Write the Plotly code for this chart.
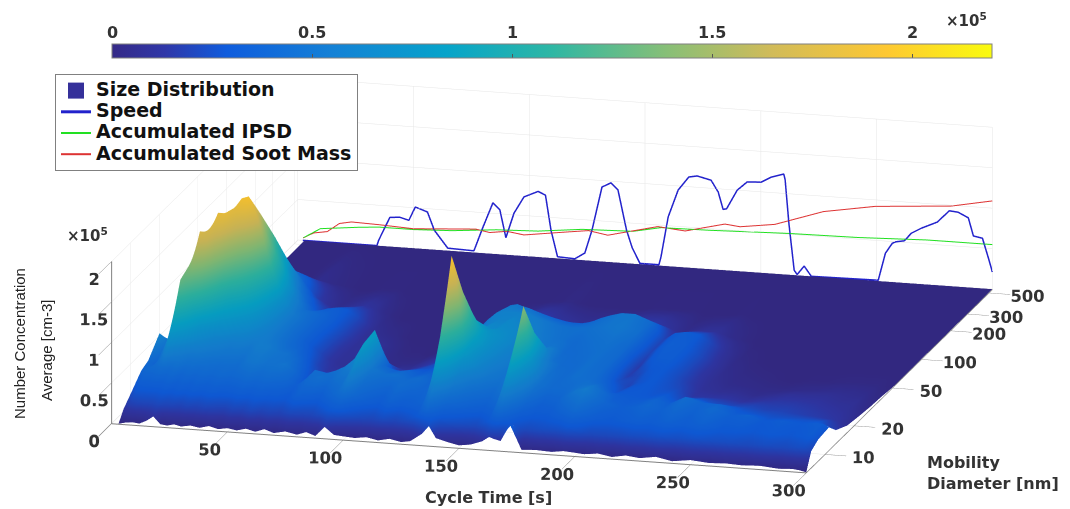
import plotly.graph_objects as go
import math

cycle_time = [3,6,9,12,15,18,21,24,27,30,34,38,42,46,50,54,58,62,66,70,75,80,84,88,92,96,100,105,110,115,120,125,129,132,134,137,140,145,150,155,160,163,165,168,172,177,183,190,195,200,204,210,216,222,228,235,242,250,258,265,272,280,288,294,297,300]
diameter = [6.4,7.2,8.5,11,13,17,23,30,38,50,70,110,200,543]
conc = [
[.00,.12,.22,.38,.42,.62,.35,.12,.03,0,0,0,0,0],
[.02,.18,.30,.42,.38,.50,.42,.20,.06,.01,0,0,0,0],
[.03,.20,.30,.42,.50,.75,.80,.45,.12,.03,0,0,0,0],
[.02,.20,.30,.45,.70,1.30,1.40,.95,.45,.12,.01,0,0,0],
[.06,.20,.30,.42,.60,1.10,1.75,1.60,1.05,.45,.10,0,0,0],
[.12,.22,.32,.45,.55,.90,1.65,1.85,1.50,.95,.35,.05,0,0],
[.03,.20,.30,.40,.50,.75,1.35,1.85,1.80,1.35,.70,.20,.01,0],
[.02,.20,.32,.42,.50,.68,1.10,1.60,1.92,1.55,1.00,.40,.03,0],
[.04,.18,.30,.40,.48,.62,.95,1.40,1.95,1.60,1.15,.50,.06,0],
[.02,.20,.32,.42,.46,.60,.88,1.25,1.75,1.35,.95,.42,.05,0],
[.04,.18,.30,.40,.45,.55,.80,1.05,1.35,1.10,.70,.28,.03,0],
[.02,.20,.32,.42,.45,.55,.72,.85,1.00,.82,.50,.16,.02,0],
[.05,.18,.30,.40,.44,.52,.62,.68,.72,.60,.35,.10,.01,0],
[.02,.16,.30,.42,.50,.56,.55,.55,.55,.45,.25,.06,0,0],
[.04,.20,.32,.45,.52,.55,.48,.46,.46,.42,.30,.08,0,0],
[.02,.18,.30,.42,.48,.50,.42,.38,.38,.38,.32,.10,.01,0],
[.05,.22,.32,.44,.48,.48,.38,.30,.30,.32,.30,.12,.01,0],
[.02,.18,.30,.42,.50,.42,.30,.22,.22,.24,.24,.10,.01,0],
[.06,.20,.30,.40,.42,.32,.20,.14,.14,.16,.16,.05,0,0],
[.02,.18,.28,.34,.30,.22,.14,.10,.10,.10,.08,.02,0,0],
[.05,.22,.35,.42,.45,.28,.12,.08,.10,.10,.05,0,0,0],
[.02,.20,.32,.46,.42,.24,.10,.06,.08,.08,.03,0,0,0],
[.06,.20,.30,.42,.46,.26,.10,.05,.06,.05,.01,0,0,0],
[.02,.24,.36,.48,.52,.30,.10,.05,.04,.02,0,0,0,0],
[.14,.30,.42,.50,.62,.42,.14,.05,.03,.01,0,0,0,0],
[.05,.32,.50,.70,.82,.85,.30,.08,.03,.01,0,0,0,0],
[.04,.26,.40,.46,.52,.42,.18,.08,.04,0,0,0,0,0],
[.03,.22,.34,.42,.46,.36,.20,.12,.08,.03,.01,0,0,0],
[.05,.20,.30,.38,.46,.38,.24,.16,.12,.08,.03,0,0,0],
[.02,.24,.36,.44,.42,.34,.26,.22,.22,.20,.10,.01,0,0],
[.05,.20,.32,.40,.44,.36,.30,.30,.32,.32,.22,.05,0,0],
[.02,.24,.34,.38,.38,.36,.36,.40,.46,.48,.40,.10,0,0],
[.04,.28,.36,.42,.55,.55,.50,.52,.56,.58,.50,.14,.01,0],
[.10,.35,.50,1.05,1.55,1.20,.80,.62,.60,.60,.52,.16,.01,0],
[.14,.40,.60,1.35,1.98,1.40,.90,.68,.62,.60,.50,.15,.02,0],
[.24,.35,.50,1.00,1.45,1.10,.80,.65,.62,.60,.48,.14,.02,0],
[.10,.28,.42,.62,.80,.85,.75,.68,.65,.60,.45,.12,.01,0],
[.06,.26,.38,.50,.62,.68,.70,.66,.62,.56,.40,.10,0,0],
[.03,.24,.34,.46,.52,.58,.62,.62,.58,.52,.36,.08,0,0],
[.05,.22,.32,.42,.48,.52,.56,.56,.52,.48,.34,.08,0,0],
[.10,.28,.36,.50,.55,.54,.52,.50,.48,.46,.34,.08,0,0],
[.16,.35,.55,.90,1.15,.85,.60,.50,.46,.46,.36,.10,0,0],
[.14,.38,.60,1.08,1.42,.95,.60,.48,.44,.46,.38,.10,0,0],
[.12,.32,.46,.70,.80,.62,.46,.42,.42,.46,.42,.12,0,0],
[.33,.26,.34,.46,.48,.46,.42,.42,.44,.48,.46,.14,.01,0],
[.03,.22,.30,.36,.42,.42,.42,.44,.46,.50,.50,.16,.01,0],
[.04,.24,.30,.38,.42,.46,.46,.46,.48,.52,.50,.16,.01,0],
[.03,.24,.36,.50,.48,.44,.42,.42,.42,.46,.42,.10,.01,0],
[.05,.28,.42,.55,.50,.38,.26,.18,.16,.20,.20,.05,0,0],
[.04,.26,.36,.44,.42,.28,.20,.22,.28,.30,.30,.08,0,0],
[.03,.22,.32,.38,.34,.30,.26,.28,.32,.34,.32,.10,0,0],
[.05,.22,.30,.34,.32,.30,.30,.30,.32,.32,.30,.10,.01,0],
[.02,.22,.32,.36,.34,.28,.26,.24,.24,.24,.20,.05,0,0],
[.05,.24,.34,.40,.38,.30,.22,.16,.14,.14,.10,.02,0,0],
[.03,.24,.32,.36,.34,.24,.14,.10,.08,.06,.03,0,0,0],
[.06,.26,.36,.42,.44,.28,.14,.08,.05,.03,.01,0,0,0],
[.02,.24,.32,.36,.38,.24,.14,.08,.04,.02,0,0,0,0],
[.05,.26,.36,.42,.38,.22,.12,.06,.03,.01,0,0,0,0],
[.03,.24,.30,.34,.30,.22,.14,.08,.03,0,0,0,0,0],
[.04,.24,.30,.36,.28,.20,.15,.10,.04,.01,0,0,0,0],
[.03,.22,.28,.30,.26,.20,.15,.10,.05,.01,0,0,0,0],
[.04,.24,.30,.32,.26,.18,.14,.10,.06,.02,0,0,0,0],
[.02,.22,.28,.30,.26,.16,.12,.08,.06,.02,0,0,0,0],
[.03,.24,.30,.32,.26,.14,.10,.08,.05,.02,0,0,0,0],
[.02,.24,.32,.32,.20,.12,.08,.05,.03,.01,0,0,0,0],
[.00,.20,.26,.28,.16,.08,.05,.03,.02,0,0,0,0,0],
]

speed_t = [2.2,34.2,35,39.8,44.1,48,50.8,56,59,64.8,76.1,80,84.3,87.3,89.9,93.4,97.7,103.8,107,109.4,112.2,119.7,124,127.1,131.4,135.3,138.3,142,144.4,147.8,156,156.9,160,164.3,168.9,172.5,178.5,181.6,183.7,185.2,189.8,194.1,200.2,204.5,209.9,210.5,212.1,214.4,215.7,218.7,221.8,250.7,253.8,256.8,258.3,262,265,269.3,276.2,281.4,285.2,289.6,291.8,295.7,298.5,300]
speed_v = [0,0,.07,.36,.37,.34,.51,.46,.24,.03,.02,.32,.63,.55,.21,.52,.73,.81,.77,.34,.02,.01,.09,.38,.92,.98,.90,.41,.20,.01,.01,.11,.61,.95,1.12,1.14,1.10,.96,.75,.76,1.00,1.11,1.12,1.19,1.24,1.17,.64,.06,.01,.12,0,.01,.35,.48,.50,.52,.62,.69,.78,.93,.92,.86,.64,.62,.36,.21]
ipsd_t = [2.3,9.8,26.2,35,50.1,66.6,85.9,103.8,122.8,144.8,156.9,177.7,212.1,241.9,271.7,300]
ipsd_v = [.03,.16,.21,.23,.23,.25,.30,.32,.38,.40,.47,.48,.51,.52,.55,.55]
soot_t = [2.3,6.8,12.8,18,23.2,35,50,76.9,82.9,90.4,97.7,115.2,125.6,133.9,155.5,167.3,184.5,191,206.1,227,249.4,282.2,300]
soot_v = [.03,.10,.13,.24,.27,.26,.24,.29,.26,.29,.26,.33,.37,.33,.48,.45,.57,.55,.61,.81,.92,.99,1.09]
cbar_ticks = [0,.5,1,1.5,2]
cbar_max = 2.2
time_ticks = [0,50,100,150,200,250,300]
diam_ticks = [10,20,50,100,200,300,500]
conc_ticks = [0,.5,1,1.5,2]

parula = [[0,'#352a87'],[.06,'#3037a8'],[.13,'#0f5cdd'],[.25,'#1481d6'],[.38,'#06a4ca'],[.5,'#2eb7a4'],[.63,'#87bf77'],[.75,'#d1bb59'],[.88,'#fec832'],[1,'#f9fb0e']]

W, H = 1062, 501
def px(X): return (X-8)/W
def py(Y): return 1-(Y-8)/H

FB = "DejaVu Sans"
tick_font = dict(family=FB, size=14, color="#333333", weight="bold")
dmax = diameter[-1]

def leg(s): return f'<span style="font-size:19px">{s}</span>'

fig = go.Figure()
fig.add_trace(go.Scatter3d(x=[None], y=[None], z=[None], mode="markers", name=leg("Size Distribution"),
                           marker=dict(symbol="square", color="#35309a", size=18), hoverinfo="skip"))
fig.add_trace(go.Surface(
    x=cycle_time, y=diameter, z=[list(r) for r in zip(*conc)],
    name="Size Distribution", showlegend=False, colorscale=parula, cmin=0, cmax=cbar_max,
    lighting=dict(ambient=.95, diffuse=.12, specular=0, roughness=1, fresnel=0),
    lightposition=dict(x=3000, y=-10000, z=3000),
    hoverinfo="skip",
    colorbar=dict(orientation="h", x=px(552), xanchor="center", y=py(63), yanchor="bottom",
                  lenmode="pixels", len=880, thicknessmode="pixels", thickness=14,
                  outlinecolor="#808080", outlinewidth=1, ticks="inside", ticklen=4, tickcolor="#555",
                  tickvals=cbar_ticks, showticklabels=False, xpad=0, ypad=0),
))
for name, t, v, col, lw in [("Speed", speed_t, speed_v, "#2222cc", 3),
                            ("Accumulated IPSD", ipsd_t, ipsd_v, "#22e022", 2),
                            ("Accumulated Soot Mass", soot_t, soot_v, "#dd3333", 2)]:
    fig.add_trace(go.Scatter3d(x=t, y=[dmax]*len(t), z=v, mode="lines", name=leg(name),
                               line=dict(color=col, width=lw), hoverinfo="skip"))

def ax(ticklen, **kw):
    return dict(showbackground=False, showspikes=False, gridcolor="#e6e6e6", gridwidth=1,
                showline=True, linecolor="#808080", linewidth=2, zeroline=False, tickangle=0,
                ticks="outside", ticklen=ticklen, tickcolor="#808080", tickwidth=1, tickfont=tick_font, title=dict(text=""), **kw)

phi = math.radians(15.3); th = math.radians(75); r = 5
k = 3.08
def note(text, X, Y, **kw):
    return dict(text=text, x=px(X), y=py(Y), xref="paper", yref="paper", showarrow=False, yanchor="middle", xanchor=kw.pop("xanchor", "center"), **kw)
cb_font = dict(family=FB, size=16, color="#333333", weight="bold")
title_font = dict(family=FB, size=16, color="#333333", weight="bold")
cb_notes = [note(f"{v:g}", 112+v/cbar_max*880, 32, font=cb_font) for v in cbar_ticks]
fig.update_layout(
    width=W, height=H, margin=dict(l=0, r=0, t=0, b=0, autoexpand=False), paper_bgcolor="white",
    font=dict(family=FB),
    scene=dict(
        domain=dict(x=[.0245,1], y=[0,.932]),
        xaxis=ax(22, range=[0,300], tickvals=time_ticks),
        yaxis=ax(50, type="log", range=[.806,2.735], tickvals=diam_ticks, ticktext=[str(v) for v in diam_ticks]),
        zaxis=ax(20, range=[-.006,2], tickvals=conc_ticks, ticktext=[f"{v:g}" for v in conc_ticks]),
        aspectmode="manual", aspectratio=dict(x=k,y=k,z=.234*k),
        camera=dict(projection=dict(type="orthographic"), up=dict(x=0,y=0,z=1), center=dict(x=0,y=0,z=0),
                    eye=dict(x=r*math.cos(phi)*math.cos(th), y=-r*math.cos(phi)*math.sin(th), z=r*math.sin(phi))),
    ),
    legend=dict(x=px(55), y=py(74), xanchor="left", yanchor="top", bgcolor="white",
                bordercolor="#808080", borderwidth=1,
                font=dict(family=FB, size=14, color="#111111", weight="bold"), itemwidth=30),
    annotations=cb_notes + [
        note("×10<sup>5</sup>", 966, 20, font=dict(family=FB, size=15, color="#333333", weight="bold")),
        note("×10<sup>5</sup>", 87, 235, font=dict(family=FB, size=15, color="#333333", weight="bold")),
        note("Cycle Time [s]", 488, 497, font=title_font),
        note("Mobility<br>Diameter [nm]", 925, 473, xanchor="left", align="left", font=title_font),
        note("Number Concentration", 19, 344, textangle=-90, font=dict(family="Liberation Sans", size=15, color="#222222")),
        note("Average [cm-3]", 46, 351, textangle=-90, font=dict(family="Liberation Sans", size=15, color="#222222")),
    ],
)
fig.write_html("out.html")
